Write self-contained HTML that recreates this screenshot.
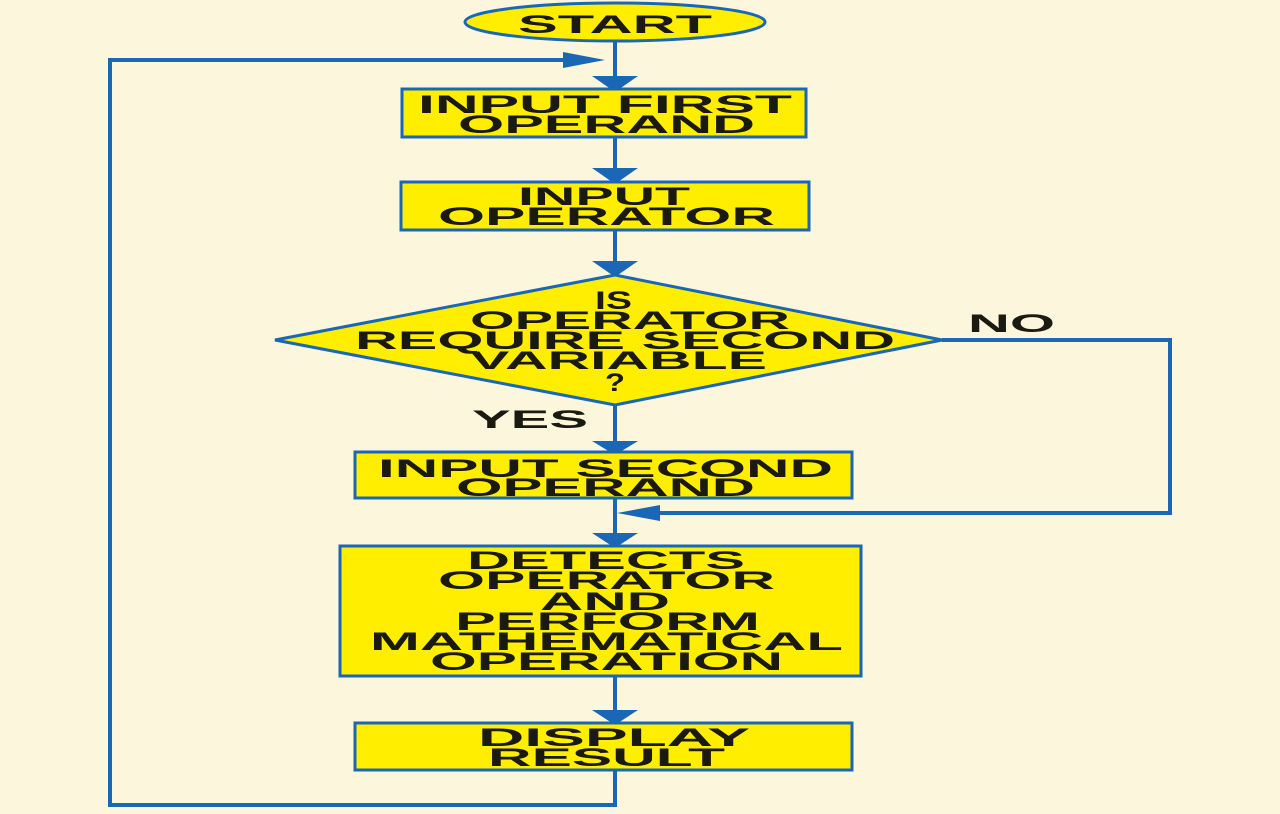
<!DOCTYPE html>
<html><head><style>
html,body{margin:0;padding:0;background:#fcf7dc;}
svg{display:block}
text{font-family:"Liberation Sans",Arial,sans-serif;font-weight:bold;font-size:25px;fill:#1a1a10;}
</style></head><body>
<svg width="1280" height="814" viewBox="0 0 1280 814" xmlns="http://www.w3.org/2000/svg">
<rect width="1280" height="814" fill="#fcf7dc"/>
<g stroke="#1a67b5" stroke-width="4" fill="none">
<line x1="615" y1="42" x2="615" y2="80"/>
<line x1="615" y1="137" x2="615" y2="172"/>
<line x1="615" y1="230" x2="615" y2="265"/>
<line x1="615" y1="405" x2="615" y2="445"/>
<line x1="615" y1="498" x2="615" y2="537"/>
<line x1="615" y1="677" x2="615" y2="714"/>
<polyline points="615,770 615,805 110,805 110,60 570,60"/>
<polyline points="942,340 1170,340 1170,513 650,513"/>
</g>
<g fill="#1a67b5">
<polygon points="592,76 638,76 615,92"/>
<polygon points="592,168 638,168 615,184"/>
<polygon points="592,261 638,261 615,277"/>
<polygon points="592,441 638,441 615,455"/>
<polygon points="592,533 638,533 615,548"/>
<polygon points="592,710 638,710 615,725"/>
<polygon points="563,52 563,68 605,60"/>
<polygon points="660,505 660,521 617,513"/>
</g>
<g fill="#ffee00" stroke="#1a67b5" stroke-width="3">
<ellipse cx="615" cy="22" rx="150" ry="19"/>
<rect x="402" y="89" width="404" height="48"/>
<rect x="401" y="182" width="408" height="48"/>
<polygon points="275,340 615,275 942,340 615,405"/>
<rect x="355" y="452" width="497" height="46"/>
<rect x="340" y="546" width="521" height="130"/>
<rect x="355" y="723" width="497" height="47"/>
</g>
<g text-anchor="start">
<text x="518" y="33" textLength="194" lengthAdjust="spacingAndGlyphs">START</text>
<text x="418" y="113" textLength="374" lengthAdjust="spacingAndGlyphs">INPUT FIRST</text>
<text x="458" y="133" textLength="297" lengthAdjust="spacingAndGlyphs">OPERAND</text>
<text x="518" y="205" textLength="172" lengthAdjust="spacingAndGlyphs">INPUT</text>
<text x="438" y="225" textLength="337" lengthAdjust="spacingAndGlyphs">OPERATOR</text>
<text x="595" y="309" textLength="37" lengthAdjust="spacingAndGlyphs">IS</text>
<text x="470" y="329" textLength="320" lengthAdjust="spacingAndGlyphs">OPERATOR</text>
<text x="355" y="349" textLength="540" lengthAdjust="spacingAndGlyphs">REQUIRE SECOND</text>
<text x="470" y="369" textLength="297" lengthAdjust="spacingAndGlyphs">VARIABLE</text>
<text x="605" y="391" textLength="20" lengthAdjust="spacingAndGlyphs">?</text>
<text x="472" y="428" textLength="116" lengthAdjust="spacingAndGlyphs">YES</text>
<text x="968" y="332" textLength="87" lengthAdjust="spacingAndGlyphs">NO</text>
<text x="378" y="477" textLength="455" lengthAdjust="spacingAndGlyphs">INPUT SECOND</text>
<text x="456" y="496" textLength="299" lengthAdjust="spacingAndGlyphs">OPERAND</text>
<text x="467" y="569" textLength="278" lengthAdjust="spacingAndGlyphs">DETECTS</text>
<text x="438" y="589" textLength="337" lengthAdjust="spacingAndGlyphs">OPERATOR</text>
<text x="540" y="610" textLength="130" lengthAdjust="spacingAndGlyphs">AND</text>
<text x="455" y="630" textLength="305" lengthAdjust="spacingAndGlyphs">PERFORM</text>
<text x="370" y="650" textLength="473" lengthAdjust="spacingAndGlyphs">MATHEMATICAL</text>
<text x="430" y="670" textLength="353" lengthAdjust="spacingAndGlyphs">OPERATION</text>
<text x="478" y="746" textLength="272" lengthAdjust="spacingAndGlyphs">DISPLAY</text>
<text x="488" y="766" textLength="237" lengthAdjust="spacingAndGlyphs">RESULT</text>
</g>
</svg>
</body></html>
